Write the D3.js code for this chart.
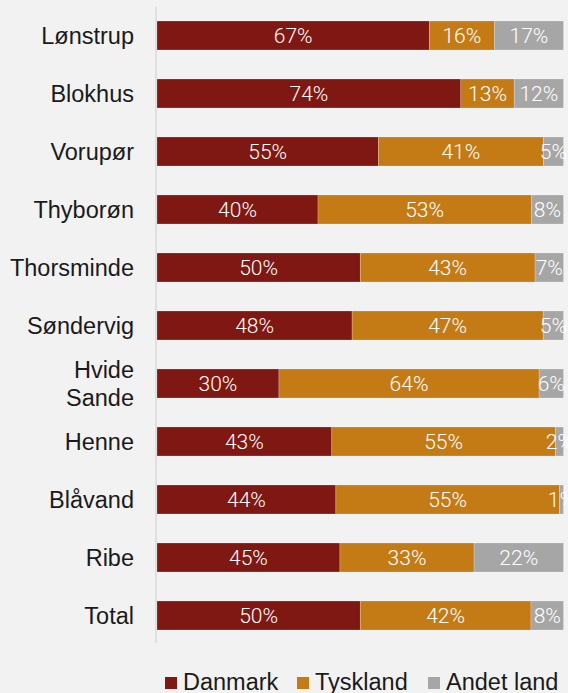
<!DOCTYPE html>
<html>
<head>
<meta charset="utf-8">
<title>Nationalitet</title>
<script src="https://d3js.org/d3.v7.min.js"></script>
<style>
  body { margin: 0; background: #f2f2f2; }
</style>
</head>
<body>
<div id="chart"></div>
<script>
  let svgw = 568;
  let svgh = 693;

  let byer = ['Lønstrup', 'Blokhus', 'Vorupør', 'Thyborøn', 'Thorsminde', 'Søndervig',
              'Hvide Sande', 'Henne', 'Blåvand', 'Ribe', 'Total'];
  let danmark  = [67, 74, 55, 40, 50, 48, 30, 43, 44, 45, 50];
  let tyskland = [16, 13, 41, 53, 43, 47, 64, 55, 55, 33, 42];
  let andet    = [17, 12, 5, 8, 7, 5, 6, 2, 1, 22, 8];
  let serier = ['Danmark', 'Tyskland', 'Andet land'];
  let farver = ['#7f1812', '#c47b16', '#a6a6a6'];

  let rows = byer.map((b, i) => ({
    by: b, 'Danmark': danmark[i], 'Tyskland': tyskland[i], 'Andet land': andet[i]
  }));

  let stack = d3.stack().keys(serier).offset(d3.stackOffsetExpand);
  let lag = stack(rows);

  let svg = d3.select('#chart').append('svg')
    .attr('width', svgw).attr('height', svgh)
    .style('background', '#f2f2f2');

  let x = d3.scaleLinear().domain([0, 1]).range([157, 563.5]);
  let y = d3.scaleBand().domain(byer).range([6.5, 644.5])
    .paddingInner(0.5).paddingOuter(0.25);
  let farve = d3.scaleOrdinal().domain(serier).range(farver);

  // bars
  let g = svg.append('g');
  g.selectAll('g.serie')
    .data(lag)
    .enter().append('g')
    .attr('class', 'serie')
    .attr('fill', d => farve(d.key))
    .selectAll('rect')
    .data(d => d)
    .enter().append('rect')
    .attr('x', d => x(d[0]))
    .attr('y', d => y(d.data.by))
    .attr('width', d => x(d[1]) - x(d[0]))
    .attr('height', y.bandwidth())
    .attr('stroke', 'rgba(255,255,255,0.35)')
    .attr('stroke-width', 0.6);

  // value labels
  lag.forEach(l => {
    svg.append('g').selectAll('text')
      .data(l)
      .enter().append('text')
      .attr('x', d => (x(d[0]) + x(d[1])) / 2)
      .attr('y', d => y(d.data.by) + y.bandwidth() / 2)
      .attr('dy', '0.36em')
      .attr('text-anchor', 'middle')
      .attr('fill', '#fff')
      .style('font-family', 'Roboto, sans-serif')
      .style('font-weight', 300)
      .style('font-size', '21px')
      .text(d => d.data[l.key] + '%');
  });

  // y axis line
  svg.append('line')
    .attr('x1', 156).attr('x2', 156)
    .attr('y1', 7).attr('y2', 643)
    .attr('stroke', '#d9d9d9').attr('stroke-width', 1.5);

  // category labels
  let kat = svg.append('g').selectAll('text')
    .data(byer)
    .enter().append('text')
    .attr('x', 134)
    .attr('y', d => y(d) + y.bandwidth() / 2)
    .attr('text-anchor', 'end')
    .attr('fill', '#1a1a1a')
    .style('font-family', '"Liberation Sans", Arial, sans-serif')
    .style('font-size', '23.5px');

  kat.each(function(d) {
    let ord = d.split(' ');
    let t = d3.select(this);
    if (ord.length == 1) {
      t.append('tspan').attr('dy', '0.36em').text(d);
    } else {
      ord.forEach((o, i) => {
        t.append('tspan').attr('x', 134)
          .attr('dy', i == 0 ? '-0.25em' : '1.2em').text(o);
      });
    }
  });

  // legend
  let legX = [165, 297, 428];
  let leg = svg.append('g').selectAll('g')
    .data(serier)
    .enter().append('g')
    .attr('transform', (d, i) => `translate(${legX[i]}, 677)`);
  leg.append('rect')
    .attr('width', 12).attr('height', 12)
    .attr('fill', d => farve(d));
  leg.append('text')
    .attr('x', 18).attr('y', 13)
    .attr('fill', '#1a1a1a')
    .style('font-family', '"Liberation Sans", Arial, sans-serif')
    .style('font-size', '23.5px')
    .text(d => d);
</script>
</body>
</html>
